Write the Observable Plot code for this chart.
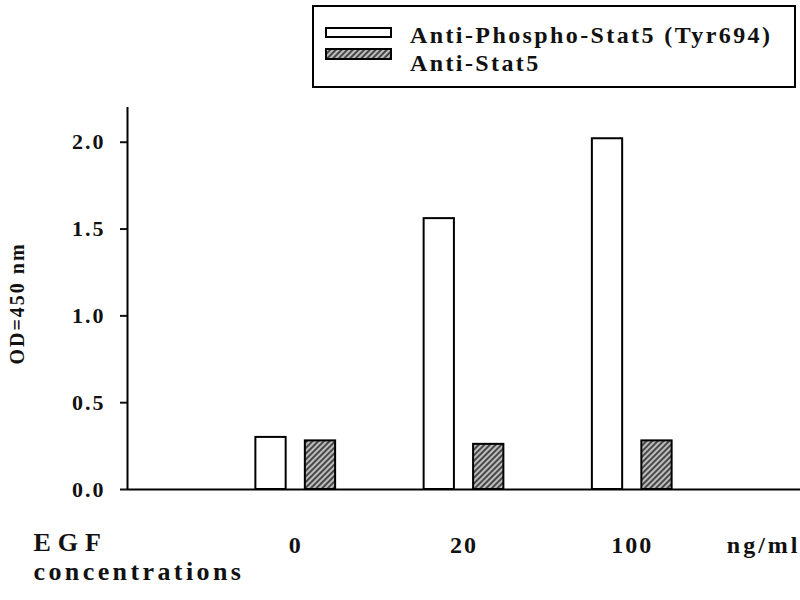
<!DOCTYPE html>
<html>
<head>
<meta charset="utf-8">
<script src="https://cdn.jsdelivr.net/npm/d3@7"></script>
<script src="https://cdn.jsdelivr.net/npm/@observablehq/plot@0.6"></script>
<style>
  body { margin: 0; background: #fff; }
  #wrap { position: relative; width: 800px; height: 600px; font-family: "Liberation Serif", "Times New Roman", serif; font-weight: bold; color: #111; }
  #legend { position: absolute; left: 312px; top: 5px; width: 480px; height: 79px; border: 2px solid #000; background: #fff; }
  #legend svg { position: absolute; left: 11px; }
  #legend span { position: absolute; left: 96px; font-size: 24px; line-height: 1; letter-spacing: 2.4px; white-space: nowrap; }
</style>
</head>
<body>
<div id="wrap">
  <div id="chart"></div>
  <div id="legend"></div>
</div>
<script>
const concentrations = ["0", "20", "100"]
const series = ["Anti-Phospho-Stat5 (Tyr694)", "Anti-Stat5"]
const phospho = [0.30, 1.56, 2.02]
const stat5 = [0.28, 0.26, 0.28]
const yTicks = [0, 0.5, 1.0, 1.5, 2.0]

// one row per bar, group position 1..3 on a linear x
const table = concentrations.flatMap((c, i) => [
  {conc: c, pos: i + 1, series: series[0], value: phospho[i]},
  {conc: c, pos: i + 1, series: series[1], value: stat5[i]}
])

const gap = 0.057, barW = 0.18

let chart = Plot.plot({
  width: 800,
  height: 600,
  marginLeft: 127,
  marginRight: 0,
  marginTop: 107,
  marginBottom: 111,
  style: {fontFamily: '"Liberation Serif", "Times New Roman", serif', fontWeight: 'bold', fontSize: '22px', color: '#111', letterSpacing: '2px', background: 'transparent'},
  x: {domain: [0, 4]},
  y: {domain: [0, 2.2]},
  marks: [
    Plot.rectY(table.filter(d => d.series == series[0]), {
      x1: d => d.pos - gap - barW,
      x2: d => d.pos - gap,
      y: 'value',
      fill: 'white',
      stroke: '#000',
      strokeWidth: 2,
    }),
    Plot.rectY(table.filter(d => d.series == series[1]), {
      x1: d => d.pos + gap,
      x2: d => d.pos + gap + barW,
      y: 'value',
      fill: 'url(#hatch)',
      stroke: '#000',
      strokeWidth: 2,
    }),
    Plot.ruleX([0], {stroke: '#000', strokeWidth: 2}),
    Plot.ruleY([0], {stroke: '#000', strokeWidth: 2}),
    Plot.axisY({
      ticks: yTicks,
      tickFormat: d3.format('.1f'),
      tickSize: 7,
      tickPadding: 15,
      strokeWidth: 2,
      label: null,
    }),
    Plot.axisX({
      ticks: [1, 2, 3],
      tickFormat: d => concentrations[d - 1],
      tickSize: 0,
      tickPadding: 46,
      fontSize: 24,
      label: null,
    }),
    Plot.text(['ng/ml'], {frameAnchor: 'bottom-right', dy: 63, textAnchor: 'end', lineAnchor: 'bottom', fontSize: 24}),
    Plot.text(['EGF'], {frameAnchor: 'bottom-left', dx: -94, dy: 61, textAnchor: 'start', lineAnchor: 'bottom', fontSize: 26}),
    Plot.text(['concentrations'], {frameAnchor: 'bottom-left', dx: -94, dy: 90, textAnchor: 'start', lineAnchor: 'bottom', fontSize: 26}),
    Plot.text(['OD=450 nm'], {frameAnchor: 'left', textAnchor: 'middle', rotate: -90, dx: -110, dy: 5, fontSize: 20}),
  ],
})

const svg = d3.select(chart)
const pat = svg.insert('defs', ':first-child').append('pattern')
  .attr('id', 'hatch').attr('patternUnits', 'userSpaceOnUse')
  .attr('width', 4).attr('height', 4).attr('patternTransform', 'rotate(45)')
pat.append('rect').attr('width', 4).attr('height', 4).attr('fill', '#bdbdbd')
pat.append('line').attr('x1', 1).attr('y1', 0).attr('x2', 1).attr('y2', 4).attr('stroke', '#2a2a2a').attr('stroke-width', 1.6)

// per-label letter spacing, as in the original figure
const spacing = {'EGF': '7px', 'concentrations': '3.4px', 'ng/ml': '3px'}
svg.selectAll('text')
  .filter(function() { return spacing[this.textContent] != null })
  .each(function() { this.style.letterSpacing = spacing[this.textContent] })

d3.select('#chart').append(() => chart)

// legend above the plot
const legend = d3.select('#legend')
const swatches = [{top: 20, h: 11, fill: 'white'}, {top: 41, h: 12, fill: 'url(#hatchL)'}]
swatches.forEach((s, i) => {
  const sw = legend.append('svg').attr('width', 67).attr('height', s.h).style('top', s.top + 'px')
  if (i == 1) {
    const p = sw.append('defs').append('pattern')
      .attr('id', 'hatchL').attr('patternUnits', 'userSpaceOnUse')
      .attr('width', 4).attr('height', 4).attr('patternTransform', 'rotate(45)')
    p.append('rect').attr('width', 4).attr('height', 4).attr('fill', '#bdbdbd')
    p.append('line').attr('x1', 1).attr('y1', 0).attr('x2', 1).attr('y2', 4).attr('stroke', '#2a2a2a').attr('stroke-width', 1.6)
  }
  sw.append('rect').attr('x', 1).attr('y', 1).attr('width', 65).attr('height', s.h - 2)
    .attr('fill', s.fill).attr('stroke', '#000').attr('stroke-width', 2)
  legend.append('span').style('top', (i == 0 ? 16 : 44) + 'px').text(series[i])
})
</script>
</body>
</html>
